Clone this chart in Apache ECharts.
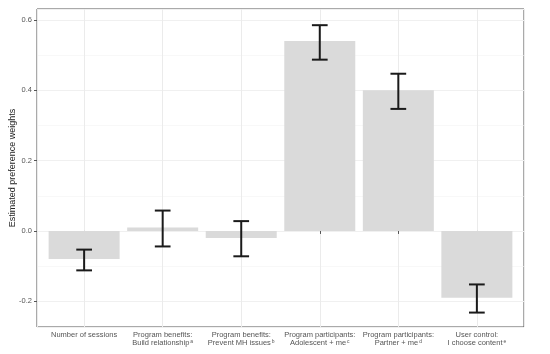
<!DOCTYPE html>
<html><head><meta charset="utf-8">
<script src="https://cdn.jsdelivr.net/npm/echarts@6/dist/echarts.min.js"></script>
<style>html,body{margin:0;padding:0;background:#fff}#c{width:550px;height:354px}</style>
</head><body><div id="c"></div>
<script>
const categories = ["Number of sessions", "Program benefits:\nBuild relationship", "Program benefits:\nPrevent MH issues", "Program participants:\nAdolescent + me", "Program participants:\nPartner + me", "User control:\nI choose content"];
const footnotes = ["", "a", "b", "c", "d", "e"];
const estimates = [-0.08, 0.01, -0.02, 0.54, 0.40, -0.19];
const lower = [-0.112, -0.044, -0.072, 0.487, 0.347, -0.232];
const upper = [-0.053, 0.058, 0.028, 0.585, 0.447, -0.152];
const yTicks = [-0.2, 0.0, 0.2, 0.4, 0.6];

const chart = echarts.init(document.getElementById('c'));
const font = 'Liberation Sans, Arial, sans-serif';
const isMult = (v, s) => Math.abs(v / s - Math.round(v / s)) < 1e-6;

function labelFor(v) {
  if (!isMult(v, 1)) return '';
  const i = Math.round(v) - 1;
  if (i < 0 || i >= categories.length) return '';
  const parts = categories[i].split('\n');
  return parts.map((p, k) => {
    let s = '{n|' + p + '}';
    if (k === parts.length - 1 && footnotes[i]) s += '{s|' + footnotes[i] + '}';
    return s;
  }).join('\n');
}

chart.setOption({
  animation: false,
  grid: { left: 37, top: 9, width: 487, height: 318, show: true, borderColor: '#555', borderWidth: 1, backgroundColor: 'transparent', containLabel: false, outerBoundsMode: 'none' },
  xAxis: {
    type: 'value', min: 0.4, max: 6.6, minInterval: 1, maxInterval: 1,
    axisLine: { show: false },
    axisTick: { show: true, length: 3, lineStyle: { color: '#555' } },
    splitLine: { show: true, lineStyle: { color: '#ebebeb', width: 1 } },
    axisLabel: {
      formatter: labelFor, margin: 4, color: '#555', fontFamily: font, lineHeight: 8,
      showMinLabel: false, showMaxLabel: false, hideOverlap: false,
      rich: {
        n: { fontSize: 7.5, color: '#555', fontFamily: font, lineHeight: 8 },
        s: { fontSize: 5, color: '#555', fontFamily: font, padding: [0, 0, 3, 1] }
      }
    }
  },
  yAxis: [{
    type: 'value', min: -0.273, max: 0.631, minInterval: 0.2, maxInterval: 0.2,
    name: 'Estimated preference weights', nameLocation: 'middle', nameGap: 20, nameMoveOverlap: false,
    nameTextStyle: { fontSize: 9, color: '#222', fontFamily: font },
    axisLine: { show: false },
    axisTick: { show: true, length: 3, lineStyle: { color: '#555' } },
    splitLine: { show: true, lineStyle: { color: '#ebebeb', width: 1 } },
    axisLabel: {
      showMinLabel: false, showMaxLabel: false, margin: 5, fontSize: 7.5, color: '#555', fontFamily: font,
      formatter: v => (isMult(v, 0.2) && yTicks.some(t => Math.abs(t - v) < 1e-6)) ? v.toFixed(1) : ''
    }
  }, {
    type: 'value', min: -0.273, max: 0.631, minInterval: 0.1, maxInterval: 0.1, position: 'left',
    axisLine: { show: false }, axisTick: { show: false }, axisLabel: { show: false },
    splitLine: { show: true, lineStyle: { color: '#f3f3f3', width: 0.6 } }
  }],
  series: [{
    type: 'bar', data: estimates.map((v, i) => [i + 1, v]), barWidth: 71,
    itemStyle: { color: '#dadada' }, z: 2
  }, {
    type: 'custom', z: 3,
    data: estimates.map((v, i) => [i + 1, lower[i], upper[i]]),
    renderItem: (params, api) => {
      const x = api.value(0);
      const lo = api.coord([x, api.value(1)]);
      const hi = api.coord([x, api.value(2)]);
      const hw = api.size([0.2, 0])[0] / 2;
      const st = { stroke: '#1a1a1a', lineWidth: 2, fill: null };
      return { type: 'group', children: [
        { type: 'line', shape: { x1: lo[0], y1: lo[1], x2: hi[0], y2: hi[1] }, style: st },
        { type: 'line', shape: { x1: lo[0] - hw, y1: lo[1], x2: lo[0] + hw, y2: lo[1] }, style: st },
        { type: 'line', shape: { x1: hi[0] - hw, y1: hi[1], x2: hi[0] + hw, y2: hi[1] }, style: st }
      ]};
    }
  }]
});
</script></body></html>
